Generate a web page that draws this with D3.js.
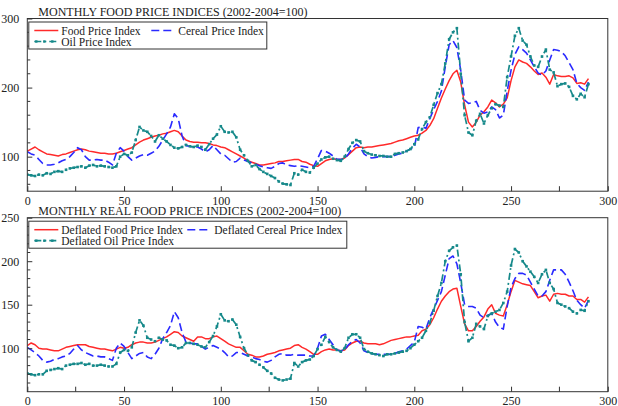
<!DOCTYPE html>
<html>
<head>
<meta charset="utf-8">
<script src="https://cdn.jsdelivr.net/npm/d3@7"></script>
<style>
  html, body { margin: 0; padding: 0; background: #fff; }
  svg { display: block; }
  text { font-family: "Liberation Serif", "Times New Roman", serif; fill: #222; }
</style>
</head>
<body>
<svg id="chart" width="618" height="406"></svg>
<script>
// Month index (0 = first month of the sample), sampled every second month
const months = d3.range(0, 292, 2);

// Nominal indices, 2002-2004 = 100
const foodIndex = [
  108,111,114,110,107,104,103,102,101,103,104,106,108,110,111,110,108,107,106,105,
  105,104,104,105,107,109,111,113,117,121,124,126,128,130,131,133,134,136,138,136,
  130,124,122,121,121,120,120,119,117,116,114,113,110,107,104,101,98,94,92,90,
  88,88,89,90,91,93,93,94,95,96,96,93,92,89,87,86,90,94,96,97,
  96,96,98,103,108,113,114,113,114,114,115,116,117,118,119,121,123,124,126,128,
  130,131,134,138,145,155,170,185,198,210,220,225,208,175,150,143,150,160,165,172,
  182,178,172,176,185,210,230,240,237,235,230,224,219,221,215,205,219,217,216,216,
  217,214,206,207,205,213
];
const cerealIndex = [
  107,104,102,96,90,88,88,89,91,94,96,100,106,113,110,100,95,95,96,95,
  95,92,88,105,113,108,100,95,98,101,103,102,105,108,115,124,133,143,162,155,
  130,116,115,114,114,111,107,110,116,110,104,102,97,92,93,98,95,93,91,89,
  87,85,84,83,86,90,91,88,87,86,87,86,85,84,86,97,109,108,105,101,
  96,96,97,104,112,118,114,104,100,98,99,100,100,100,100,102,104,105,108,111,
  113,142,143,141,155,168,180,195,230,262,268,258,225,182,177,178,180,167,163,165,
  172,168,156,160,195,225,248,259,255,250,240,230,221,218,224,240,255,254,252,246,
  236,226,206,200,196,208
];
const oilIndex = [
  74,73,72,74,73,76,75,78,79,78,81,83,84,85,86,84,87,88,86,87,
  86,85,84,86,100,104,102,106,124,143,138,136,130,122,131,126,122,117,113,112,
  114,117,115,114,116,114,110,118,126,132,144,136,135,136,128,110,102,94,86,88,
  82,78,75,72,69,64,61,60,59,76,74,81,78,77,84,90,96,99,100,97,
  95,94,100,111,120,124,122,108,105,103,102,101,101,100,100,104,105,106,108,111,
  118,125,140,150,157,175,192,205,235,270,280,286,220,160,135,131,152,162,148,160,
  170,176,174,172,215,245,275,286,268,262,245,232,230,245,255,226,222,202,205,206,
  201,188,183,191,186,205
];

// Real (deflated) indices, 2002-2004 = 100
const realFoodIndex = [
  103,106,104,100,99,99,98,97,97,99,101,102,103,104,104,104,102,101,100,99,
  99,98,97,99,101,100,101,104,106,107,107,106,106,107,109,111,113,116,119,118,
  114,112,110,108,113,113,111,111,113,114,111,108,105,103,101,101,97,93,92,90,
  90,91,93,94,95,97,98,99,100,103,104,101,99,96,93,93,96,98,99,98,
  98,97,98,103,106,108,108,106,105,105,105,104,105,107,109,110,111,112,113,113,
  114,115,120,122,127,135,145,154,160,165,168,169,148,128,120,120,125,131,136,145,
  150,140,138,137,150,165,178,176,174,173,172,165,158,160,161,154,162,163,162,162,
  160,160,156,156,153,159
];
const realCerealIndex = [
  101,98,95,91,86,84,85,87,88,90,91,94,99,103,98,95,93,91,91,90,
  90,88,86,100,106,102,95,88,91,94,95,90,88,93,100,111,118,126,142,135,
  118,107,106,105,105,102,99,101,103,101,99,95,90,91,95,95,93,91,90,88,
  87,85,84,86,90,93,94,92,92,93,92,92,92,91,91,100,114,116,110,104,
  98,97,98,104,108,110,106,97,95,94,93,93,93,93,93,94,96,97,99,103,
  107,125,124,122,135,145,155,165,184,203,206,197,175,150,148,148,146,138,135,138,
  140,130,124,122,148,170,180,186,186,184,176,168,160,160,165,178,190,190,190,185,
  176,166,155,150,146,155
];
const realOilIndex = [
  71,70,69,70,70,74,75,76,77,76,80,81,82,82,83,81,82,80,80,81,
  80,79,79,82,95,98,97,101,118,132,126,112,110,108,112,110,109,104,103,100,
  101,106,106,105,104,102,101,107,114,125,139,132,131,133,127,113,100,92,86,84,
  81,78,74,71,66,64,63,64,65,83,79,84,86,87,91,99,104,113,107,101,
  98,96,100,112,116,116,112,99,96,94,93,92,91,93,93,94,95,96,97,100,
  104,108,112,120,129,143,160,175,200,212,216,218,185,130,108,112,128,125,122,137,
  140,142,144,152,165,195,214,210,200,194,188,182,175,185,190,175,168,152,150,148,
  146,142,140,144,143,154
];

// Axis ticks and labels
const xTicks = d3.range(0, 301, 50);
const xMinorTicks = d3.range(25, 300, 50);
const topYTicks = [100, 200, 300];
const topYMinor = d3.range(60, 300, 20).filter(v => v % 100 !== 0);
const bottomYTicks = [100, 150, 200, 250];
const bottomYMinor = d3.range(60, 250, 10).filter(v => v % 50 !== 0);

const titles = [
  "MONTHLY FOOD PRICE INDICES (2002-2004=100)",
  "MONTHLY REAL FOOD PRICE INDICES (2002-2004=100)"
];
const topLabels = ["Food Price Index", "Cereal Price Index", "Oil Price Index"];
const bottomLabels = ["Deflated Food Price Index", "Deflated Cereal Price Index", "Deflated Oil Price Index"];

const styles = {
  food:   { color: "#ff2a2a", width: 1.5, dash: null, markers: false },
  cereal: { color: "#2a2aff", width: 1.6, dash: "8,4", markers: false },
  oil:    { color: "#16898a", width: 1.7, dash: "7,3,2,3", markers: true }
};

const svg = d3.select("#chart");

function drawPanel(cfg) {
  const x = d3.scaleLinear().domain([0, 300]).range([cfg.left, cfg.right]);
  const y = d3.scaleLinear().domain(cfg.yDomain).range([cfg.bottom, cfg.top]);
  const g = svg.append("g");

  const clipId = "clip-" + cfg.id;
  svg.append("clipPath").attr("id", clipId)
    .append("rect")
    .attr("x", cfg.left).attr("y", cfg.top)
    .attr("width", cfg.right - cfg.left).attr("height", cfg.bottom - cfg.top);

  const plot = g.append("g").attr("clip-path", `url(#${clipId})`);

  const line = d3.line()
    .x((d, i) => x(months[i]))
    .y(d => y(d));

  cfg.series.forEach(s => {
    const st = styles[s.key];
    plot.append("path")
      .datum(s.values)
      .attr("fill", "none")
      .attr("stroke", st.color)
      .attr("stroke-width", st.width)
      .attr("stroke-dasharray", st.dash)
      .attr("stroke-linejoin", "round")
      .attr("d", line);
    if (st.markers) {
      plot.append("g").selectAll("rect")
        .data(s.values)
        .join("rect")
        .attr("x", (d, i) => x(months[i]) - 1.3)
        .attr("y", d => y(d) - 1.3)
        .attr("width", 2.6).attr("height", 2.6)
        .attr("fill", st.color);
    }
  });

  // Frame
  g.append("rect")
    .attr("x", cfg.left).attr("y", cfg.top)
    .attr("width", cfg.right - cfg.left).attr("height", cfg.bottom - cfg.top)
    .attr("fill", "none").attr("stroke", "#333").attr("stroke-width", 1);

  // Bottom axis with inward ticks
  const xAxis = d3.axisBottom(x).tickValues(xTicks).tickSize(-5).tickPadding(5)
    .tickFormat(d3.format("d"));
  const xa = g.append("g").attr("transform", `translate(0,${cfg.bottom})`).call(xAxis);
  xa.select(".domain").remove();
  xa.selectAll("line").attr("stroke", "#333");
  xa.selectAll("text").attr("font-size", 12).attr("font-family", "Liberation Serif").attr("fill", "#222");
  g.append("g").selectAll("line").data(xMinorTicks).join("line")
    .attr("x1", d => x(d)).attr("x2", d => x(d))
    .attr("y1", cfg.bottom).attr("y2", cfg.bottom - 5)
    .attr("stroke", "#333");

  // Left axis with inward ticks
  const yAxis = d3.axisLeft(y).tickValues(cfg.yTicks).tickSize(-5).tickPadding(8)
    .tickFormat(d3.format("d"));
  const ya = g.append("g").attr("transform", `translate(${cfg.left},0)`).call(yAxis);
  ya.select(".domain").remove();
  ya.selectAll("line").attr("stroke", "#333");
  ya.selectAll("text").attr("font-size", 12).attr("font-family", "Liberation Serif").attr("fill", "#222");
  g.append("g").selectAll("line").data(cfg.yMinor).join("line")
    .attr("x1", cfg.left).attr("x2", cfg.left + 3)
    .attr("y1", d => y(d)).attr("y2", d => y(d))
    .attr("stroke", "#333");

  // Title
  g.append("text")
    .attr("x", cfg.left + 11).attr("y", cfg.top - 2.5)
    .attr("font-size", 12)
    .text(cfg.title);

  // Legend
  const lg = g.append("g");
  lg.append("rect")
    .attr("x", cfg.left + 1.5).attr("y", cfg.top + 3.5)
    .attr("width", cfg.legendWidth).attr("height", 27)
    .attr("fill", "#fff").attr("stroke", "#333").attr("stroke-width", 1);
  const entries = [
    { key: "food",   label: cfg.labels[0], lx: cfg.left + 7,  ly: cfg.top + 12 },
    { key: "cereal", label: cfg.labels[1], lx: cfg.left + cfg.col2, ly: cfg.top + 12 },
    { key: "oil",    label: cfg.labels[2], lx: cfg.left + 7,  ly: cfg.top + 23 }
  ];
  entries.forEach(e => {
    const st = styles[e.key];
    const sampleLen = 24;
    lg.append("line")
      .attr("x1", e.lx).attr("x2", e.lx + sampleLen)
      .attr("y1", e.ly).attr("y2", e.ly)
      .attr("stroke", st.color)
      .attr("stroke-width", st.width)
      .attr("stroke-dasharray", st.dash);
    if (st.markers) {
      [0, 8, 16].forEach(dx => {
        lg.append("rect")
          .attr("x", e.lx + 2 + dx - 1.2).attr("y", e.ly - 1.2)
          .attr("width", 2.4).attr("height", 2.4)
          .attr("fill", st.color);
      });
    }
    lg.append("text")
      .attr("x", e.lx + sampleLen + 3).attr("y", e.ly + 4)
      .attr("font-size", 11.5)
      .text(e.label);
  });
}

drawPanel({
  id: "top",
  left: 27.3, right: 607.8, top: 18.5, bottom: 191.2,
  yDomain: [50, 300],
  yTicks: topYTicks, yMinor: topYMinor,
  title: titles[0], labels: topLabels,
  legendWidth: 238, col2: 124,
  series: [
    { key: "food", values: foodIndex },
    { key: "cereal", values: cerealIndex },
    { key: "oil", values: oilIndex }
  ]
});

drawPanel({
  id: "bottom",
  left: 27.3, right: 607.8, top: 217.7, bottom: 391.7,
  yDomain: [50, 250],
  yTicks: bottomYTicks, yMinor: bottomYMinor,
  title: titles[1], labels: bottomLabels,
  legendWidth: 318, col2: 160,
  series: [
    { key: "food", values: realFoodIndex },
    { key: "cereal", values: realCerealIndex },
    { key: "oil", values: realOilIndex }
  ]
});
</script>
</body>
</html>
